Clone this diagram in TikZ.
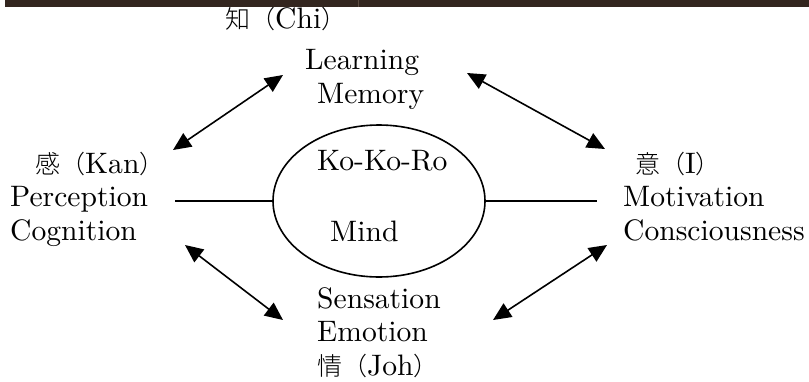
\documentclass[tikz,border=0pt]{standalone}
\usepackage{fontspec}
\setmainfont{lmroman10-regular}[Extension=.otf]
\newfontfamily\jpfont{Noto Sans CJK JP}[UprightFont={* Light}]
\usetikzlibrary{arrows.meta,shapes.geometric}

\definecolor{band}{HTML}{33261F}
\definecolor{bandline}{HTML}{5A4A40}

\tikzset{
  lbl/.style={inner sep=0pt, align=left, anchor=base west,
              font=\fontsize{29.6}{33.5}\selectfont},
  link/.style={line width=1.6pt},
  dbl/.style={line width=1.6pt,
              {Triangle[length=18pt,width=16pt]}-{Triangle[length=18pt,width=16pt]}},
}
\newcommand{\kj}[1]{{\jpfont\fontsize{25}{25}\selectfont #1}}

\begin{document}
\begin{tikzpicture}[x=1pt,y=-1pt]
\useasboundingbox (0,0) rectangle (809,381);

% dark strip along the top edge
\fill[band] (5,0) rectangle (809,7);
\draw[bandline, line width=0.8pt] (358,0) -- (358,7);

% centre: Ko-Ko-Ro
\node[draw, ellipse, line width=1.6pt, minimum width=212pt, minimum height=152pt,
      inner sep=0pt] (mind) at (379,201) {};
\node[lbl] (kokoro) at (317,241) {Ko-Ko-Ro\\[37.5pt]\hspace{13pt}Mind};

% four faculties (anchored on the baseline of the last line)
\node[lbl] (chi) at (225,28) {\kj{知（}Chi\kj{）}};
\node[lbl] (learn) at (305,103) {Learning\\\hspace{12pt}Memory};
\node[lbl] (kan) at (10,240) {\hspace{25pt}\kj{感（}Kan\kj{）}\\Perception\\Cognition};
\node[lbl] (iwill) at (623,240) {\hspace{12pt}\kj{意（}I\kj{）}\\Motivation\\Consciousness};
\node[lbl] (joh) at (317,375) {Sensation\\Emotion\\\kj{情（}Joh\kj{）}};

% connector ends
\coordinate (tlA) at (173,150);  \coordinate (tlB) at (283,75);
\coordinate (trA) at (467,73);   \coordinate (trB) at (605,149);
\coordinate (blA) at (185,245);  \coordinate (blB) at (283,320);
\coordinate (brA) at (607,245);  \coordinate (brB) at (493,320);
\coordinate (hl) at (175,201);   \coordinate (hr) at (597,201);

\draw[dbl] (tlA) -- (tlB);
\draw[dbl] (trA) -- (trB);
\draw[dbl] (blA) -- (blB);
\draw[dbl] (brA) -- (brB);
\draw[link] (hl) -- (mind.west);
\draw[link] (mind.east) -- (hr);
\end{tikzpicture}
\end{document}
